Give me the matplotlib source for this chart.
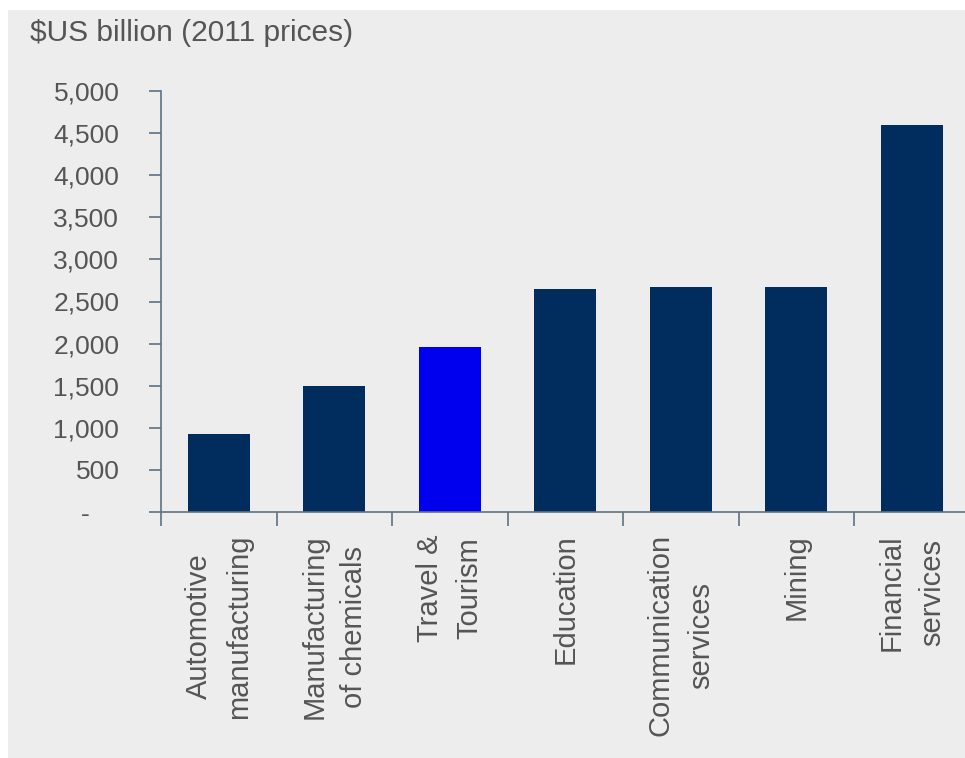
import matplotlib.pyplot as plt
from matplotlib.patches import Rectangle
from matplotlib.ticker import FixedLocator

# Data
categories = [
    "Automotive\nmanufacturing",
    "Manufacturing\nof chemicals",
    "Travel &\nTourism",
    "Education",
    "Communication\nservices",
    "Mining",
    "Financial\nservices",
]
values = [925, 1500, 1960, 2650, 2670, 2670, 4600]
highlight = "Travel &\nTourism"
y_ticks = [0, 500, 1000, 1500, 2000, 2500, 3000, 3500, 4000, 4500, 5000]
y_labels = ["-    "] + [f"{v:,}" for v in y_ticks[1:]]

NAVY = "#002d5e"
BLUE = "#0000ee"
BG = "#ededed"
TEXT = "#555555"
AXIS = "#5f7183"

plt.rcParams["font.family"] = ["Liberation Sans", "DejaVu Sans"]

W, H = 965, 758
fig = plt.figure(figsize=(W / 100, H / 100), dpi=100, facecolor="white")
fig.patches.append(Rectangle((8 / W, 0), 1 - 8 / W, 1 - 10 / H,
                             transform=fig.transFigure, facecolor=BG,
                             edgecolor="none", zorder=-1))

left, right = 161 / W, 1.0
bottom, top = 1 - 512 / H, 1 - 91 / H
ax = fig.add_axes([left, bottom, right - left, top - bottom])
ax.set_facecolor("none")

colors = [BLUE if c == highlight else NAVY for c in categories]
x = list(range(len(categories)))
ax.bar(x, values, width=0.54, color=colors, edgecolor="none", zorder=2)

ax.set_xlim(-0.5, -0.5 + (W - 161) / 115.5)
ax.set_ylim(0, 5000)

for s in ("top", "right"):
    ax.spines[s].set_visible(False)
for s in ("left", "bottom"):
    ax.spines[s].set_color(AXIS)
    ax.spines[s].set_linewidth(1.2)

ax.set_yticks(y_ticks)
ax.set_yticklabels(y_labels)
ax.tick_params(axis="y", direction="out", length=9, width=1.2, color=AXIS,
               pad=21, labelsize=19, labelcolor=TEXT)

ax.set_xticks(x)
ax.set_xticklabels(categories, rotation=90, ha="center", va="top",
                   multialignment="center", linespacing=1.55)
ax.tick_params(axis="x", which="major", length=0, pad=16, labelsize=21,
               labelcolor=TEXT)
ax.xaxis.set_minor_locator(FixedLocator([i - 0.5 for i in range(len(categories) + 1)]))
ax.tick_params(axis="x", which="minor", direction="out", length=10, width=1.2,
               color=AXIS)

fig.text(30 / W, 1 - 33 / H, "$US billion (2011 prices)", fontsize=21.5,
         color=TEXT, va="center", ha="left")

fig.savefig("out.png", dpi=100, facecolor="white")
